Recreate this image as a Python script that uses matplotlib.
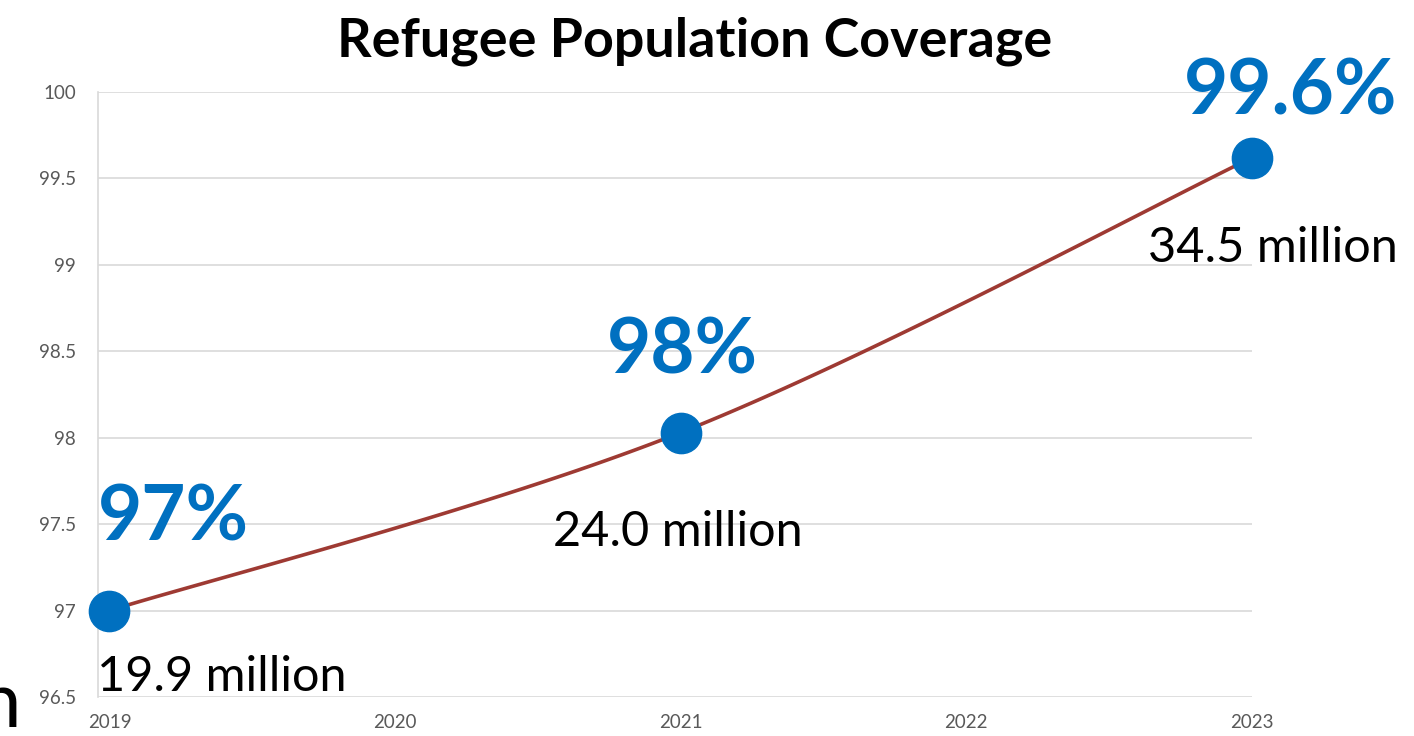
import matplotlib
matplotlib.use('Agg')
import matplotlib.pyplot as plt
import numpy as np

# data
years = [2019, 2021, 2023]
coverage = [97.0, 98.03, 99.62]
pct_labels = ['97%', '98%', '99.6%']
pop_labels = ['19.9 million', '24.0 million', '34.5 million']
x_ticks = [2019, 2020, 2021, 2022, 2023]
y_ticks = [96.5, 97, 97.5, 98, 98.5, 99, 99.5, 100]

BLUE = '#0070C0'
RED = '#9E3A33'
GRID = '#D9D9D9'

plt.rcParams['font.family'] = ['Lato', 'DejaVu Sans']


def smooth(xs, ys, n=60):
    # Catmull-Rom style smoothing, like a spreadsheet "smoothed line"
    xs = np.asarray(xs, float)
    ys = np.asarray(ys, float)
    px = np.concatenate([[xs[0]], xs, [xs[-1]]])
    py = np.concatenate([[ys[0]], ys, [ys[-1]]])
    out_x, out_y = [], []
    for i in range(1, len(px) - 2):
        p0x, p1x, p2x, p3x = px[i - 1:i + 3]
        p0y, p1y, p2y, p3y = py[i - 1:i + 3]
        c1x, c1y = p1x + (p2x - p0x) / 6, p1y + (p2y - p0y) / 6
        c2x, c2y = p2x - (p3x - p1x) / 6, p2y - (p3y - p1y) / 6
        t = np.linspace(0, 1, n)
        bx = (1 - t) ** 3 * p1x + 3 * (1 - t) ** 2 * t * c1x + 3 * (1 - t) * t ** 2 * c2x + t ** 3 * p2x
        by = (1 - t) ** 3 * p1y + 3 * (1 - t) ** 2 * t * c1y + 3 * (1 - t) * t ** 2 * c2y + t ** 3 * p2y
        out_x.extend(bx)
        out_y.extend(by)
    return np.array(out_x), np.array(out_y)


fig = plt.figure(figsize=(14.14, 7.36), dpi=100)
ax = fig.add_axes([98 / 1414, 1 - 697 / 736, (1252 - 98) / 1414, (697 - 92) / 736])

sx, sy = smooth(years, coverage)
ax.plot(sx, sy, color=RED, lw=2.6, zorder=3, clip_on=False)
ax.plot(years, coverage, 'o', color=BLUE, markersize=29, zorder=4, clip_on=False)

ax.set_xlim(2018.96, 2023)
ax.set_ylim(96.5, 100)
ax.set_xticks(x_ticks)
ax.set_yticks(y_ticks)
ax.set_yticklabels(['%g' % v for v in y_ticks])
ax.tick_params(length=0, labelsize=13.5, colors='#595959')
ax.tick_params(axis='y', pad=16)
ax.tick_params(axis='x', pad=12)
ax.grid(axis='y', color=GRID, lw=1.2)
ax.set_axisbelow(True)
for side in ['top', 'right', 'bottom']:
    ax.spines[side].set_visible(False)
ax.spines['left'].set_color(GRID)
ax.spines['left'].set_linewidth(1.2)

# labels: (dx, dy) pixel offsets from each point, alignment
pct_pos = [(-12, 70, 'left'), (2, 59, 'center'), (39, 43, 'center')]
pop_pos = [(-12, -80, 'left'), (-3, -113, 'center'), (21, -104, 'center')]
for i, (x, y) in enumerate(zip(years, coverage)):
    dx, dy, ha = pct_pos[i]
    ax.annotate(pct_labels[i], (x, y), xytext=(dx, dy), textcoords='offset pixels',
                ha=ha, va='baseline', fontsize=55, fontweight='bold', color=BLUE,
                annotation_clip=False)
    dx, dy, ha = pop_pos[i]
    ax.annotate(pop_labels[i], (x, y), xytext=(dx, dy), textcoords='offset pixels',
                ha=ha, va='baseline', fontsize=35, color='black', annotation_clip=False)

fig.text(695 / 1414, 1 - 57 / 736, 'Refugee Population Coverage', ha='center',
         va='baseline', fontsize=38.8, fontweight='bold', color='black')
# fragment of text cut by the left edge, as in the reference
fig.text(21 / 1414, 1 - 727 / 736, 'n', ha='right', va='baseline', fontsize=56, color='black')

fig.savefig('out.png', dpi=100)
